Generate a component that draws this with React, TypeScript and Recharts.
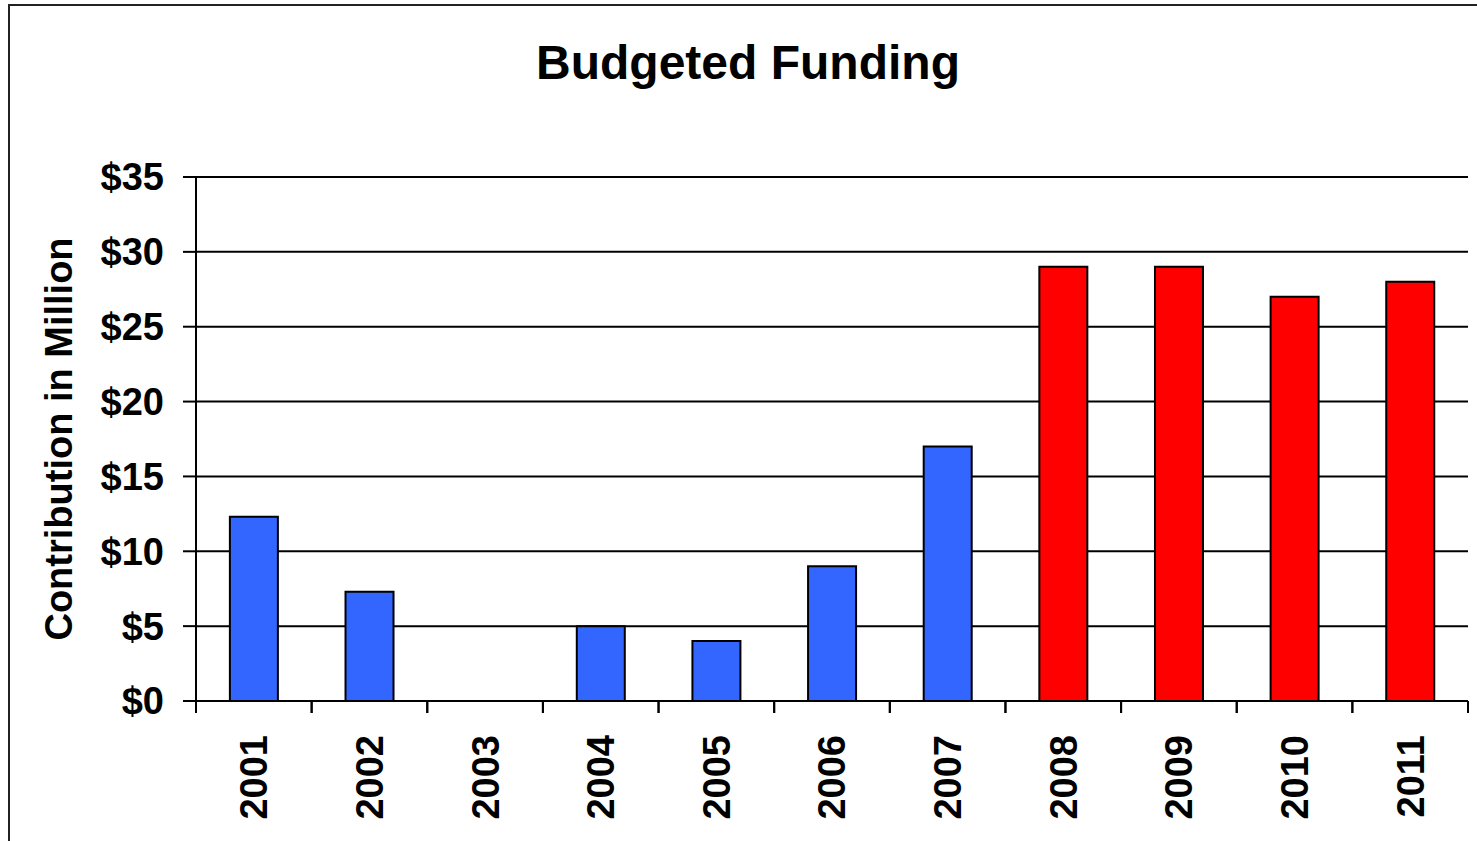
import { Bar, BarChart, CartesianGrid, Cell, XAxis, YAxis } from 'recharts'

// Budgeted funding per year, in millions of dollars.
const YEARS = ['2001', '2002', '2003', '2004', '2005', '2006', '2007', '2008', '2009', '2010', '2011']
const FUNDING = [12.3, 7.3, 0, 5, 4, 9, 17, 29, 29, 27, 28]
const Y_TICKS = [0, 5, 10, 15, 20, 25, 30, 35]
// years from here on are drawn in red (budgeted), earlier ones in blue
const BUDGET_START = '2008'

const FONT = '"Liberation Sans", Arial, Helvetica, sans-serif'
const BLUE = '#3366FF'
const RED = '#FF0000'

const data = YEARS.map((year, i) => ({ year, value: FUNDING[i] }))

function YearTick(props: any) {
  const { x, y, payload, width, visibleTicksCount } = props
  const half = payload?.offset ?? width / visibleTicksCount / 2
  const ty = y + 34
  return (
    <g>
      <line x1={x - half} x2={x - half} y1={y} y2={y + 12} stroke="#000" strokeWidth={2} />
      <line x1={x + half} x2={x + half} y1={y} y2={y + 12} stroke="#000" strokeWidth={2} />
      <text
        x={x}
        y={ty}
        dy="0.355em"
        transform={`rotate(-90 ${x} ${ty})`}
        textAnchor="end"
        fontFamily={FONT}
        fontWeight={700}
        fontSize={38}
        fill="#000"
      >
        {payload.value}
      </text>
    </g>
  )
}

function YTitle(props: any) {
  const vb = props.viewBox ?? { x: 0, y: 177, width: 196, height: 524 }
  const cx = vb.x + 59
  const cy = vb.y + vb.height / 2
  return (
    <text
      x={cx}
      y={cy}
      dy="0.355em"
      transform={`rotate(-90 ${cx} ${cy})`}
      textAnchor="middle"
      fontFamily={FONT}
      fontWeight={700}
      fontSize={38}
      fill="#000"
    >
      Contribution in Million
    </text>
  )
}

export default function App() {
  return (
    <div
      style={{
        position: 'absolute',
        left: 0,
        top: 0,
        width: 1477,
        height: 841,
        overflow: 'hidden',
        background: '#fff',
      }}
    >
      {/* outer chart frame, cut by the window on the right and bottom */}
      <div
        style={{
          position: 'absolute',
          left: 8,
          top: 4,
          width: 2000,
          height: 2000,
          borderTop: '2px solid #222',
          borderLeft: '2px solid #222',
        }}
      />
      <div
        style={{
          position: 'absolute',
          left: 0,
          top: 39,
          width: 1496,
          textAlign: 'center',
          fontFamily: FONT,
          fontWeight: 700,
          fontSize: 48,
          lineHeight: '48px',
          color: '#000',
        }}
      >
        Budgeted Funding
      </div>
      <div style={{ position: 'absolute', left: 0, top: 0 }}>
        <BarChart
          width={1477}
          height={841}
          data={data}
          margin={{ top: 177, right: 9, bottom: 0, left: 0 }}
          barCategoryGap="29.3%"
        >
          <CartesianGrid vertical={false} stroke="#000" strokeWidth={2} />
          <XAxis
            dataKey="year"
            height={140}
            interval={0}
            tickLine={false}
            tickSize={0}
            tickMargin={0}
            axisLine={{ stroke: '#000', strokeWidth: 2 }}
            tick={<YearTick />}
          />
          <YAxis
            width={196}
            domain={[0, 35]}
            ticks={Y_TICKS}
            interval={0}
            tickSize={13}
            tickMargin={19}
            tickLine={{ stroke: '#000', strokeWidth: 2 }}
            axisLine={{ stroke: '#000', strokeWidth: 2 }}
            tick={{ fontSize: 38, fontWeight: 700, fill: '#000', fontFamily: FONT }}
            tickFormatter={(v: number) => `$${v}`}
            label={<YTitle />}
          />
          <Bar dataKey="value" stroke="#000" strokeWidth={2} isAnimationActive={false}>
            {data.map((d) => (
              <Cell key={d.year} fill={d.year >= BUDGET_START ? RED : BLUE} />
            ))}
          </Bar>
        </BarChart>
      </div>
    </div>
  )
}
